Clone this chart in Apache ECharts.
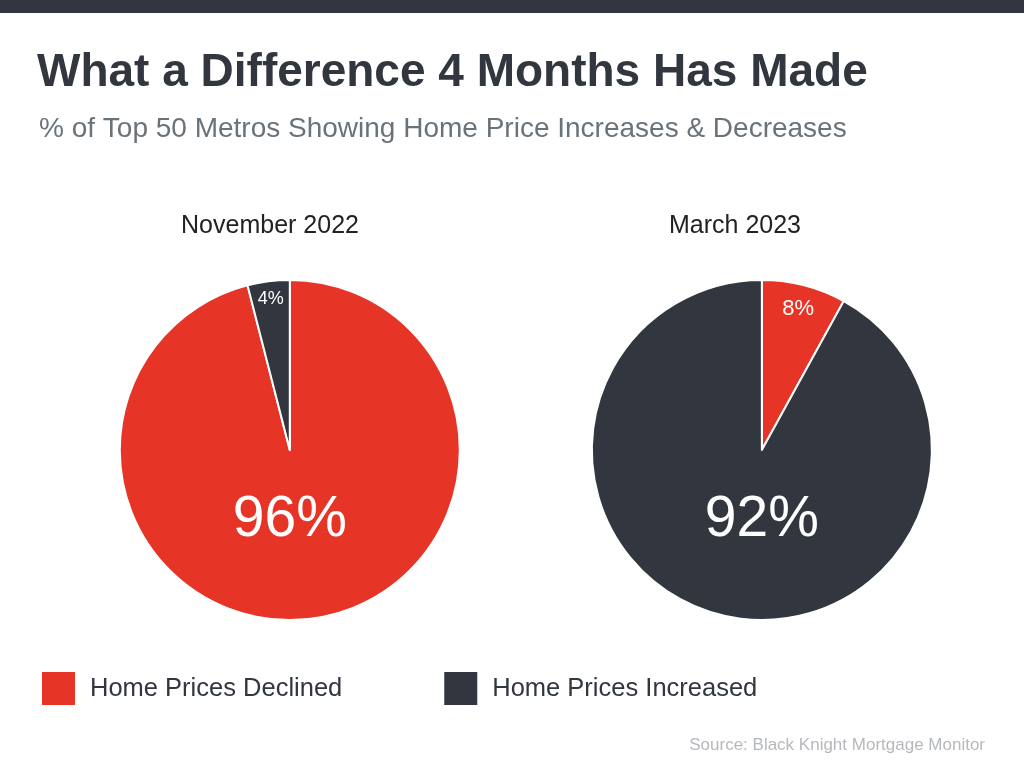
<!DOCTYPE html>
<html><head><meta charset="utf-8">
<script src="https://cdn.jsdelivr.net/npm/echarts@6/dist/echarts.min.js"></script>
<style>html,body{margin:0;padding:0;background:#fff}#c{width:1024px;height:774px}</style>
</head><body><div id="c"></div>
<script>
const categories = ['Home Prices Declined', 'Home Prices Increased'];
const colors = ['#e63426', '#31363f'];
const periods = ['November 2022', 'March 2023'];
const nov2022 = [96, 4];
const mar2023 = [8, 92];
const values = [nov2022, mar2023];
const centers = [['28.3%', 450], ['74.4%', 450]];
const smallRing = [[128, 170], [116, 170]];
const smallSize = [18, 22];

const FONT = 'Liberation Sans';
const chart = echarts.init(document.getElementById('c'));
const series = [];
values.forEach((vals, i) => {
  series.push({
    type: 'pie', center: centers[i], radius: [0, 170], startAngle: 90, clockwise: true,
    animation: false, silent: true,
    itemStyle: { borderColor: '#fff', borderWidth: 2 },
    labelLine: { show: false },
    label: { show: true, position: 'center', color: '#fff', fontFamily: FONT,
      formatter: p => p.value >= 50 ? '{s|}\n{b|' + p.value + '%}' : '',
      rich: { s: { height: 140, fontSize: 10 }, b: { fontSize: 57, color: '#fff', fontFamily: FONT, height: 60 } } },
    data: vals.map((v, j) => ({ name: categories[j], value: v, itemStyle: { color: colors[j] },
      label: { show: v >= 50 } }))
  });
  // small labels
  series.push({
    type: 'pie', center: centers[i], radius: smallRing[i], startAngle: 90, animation: false, silent: true,
    itemStyle: { color: 'transparent' }, labelLine: { show: false },
    label: { show: true, position: 'inside', color: '#fff', fontSize: smallSize[i], fontFamily: FONT,
      formatter: p => p.value < 50 ? p.value + '%' : '' },
    data: vals.map((v, j) => ({ name: categories[j], value: v }))
  });
});

chart.setOption({
  backgroundColor: '#fff',
  graphic: [{ type: 'rect', left: 0, top: 0, shape: { width: 1024, height: 13 }, style: { fill: '#31363f' } }],
  title: [
    { text: 'What a Difference 4 Months Has Made', left: 37, top: 50, padding: 0,
      textStyle: { fontFamily: FONT, fontWeight: 'bold', fontSize: 46, color: '#31363f' } },
    { text: '% of Top 50 Metros Showing Home Price Increases & Decreases', left: 39, top: 115, padding: 0,
      textStyle: { fontFamily: FONT, fontWeight: 'normal', fontSize: 28, color: '#6b737a' } },
    { text: periods[0], left: 270, textAlign: 'center', top: 214, padding: 0,
      textStyle: { fontFamily: FONT, fontWeight: 'normal', fontSize: 25, color: '#222' } },
    { text: periods[1], left: 735, textAlign: 'center', top: 214, padding: 0,
      textStyle: { fontFamily: FONT, fontWeight: 'normal', fontSize: 25, color: '#222' } },
    { text: 'Source: Black Knight Mortgage Monitor', right: 39, top: 737, padding: 0,
      textStyle: { fontFamily: FONT, fontWeight: 'normal', fontSize: 17, color: '#b5b9bd' } }
  ],
  legend: {
    left: 40, top: 670, padding: 0, icon: 'rect', itemWidth: 35, itemHeight: 35, itemGap: 100,
    textStyle: { fontFamily: FONT, fontSize: 25.5, color: '#31363f', padding: [0, 0, 0, 9] },
    data: categories.map((c, j) => ({ name: c, itemStyle: { color: colors[j] } })),
    selectedMode: false
  },
  series
});
</script></body></html>
